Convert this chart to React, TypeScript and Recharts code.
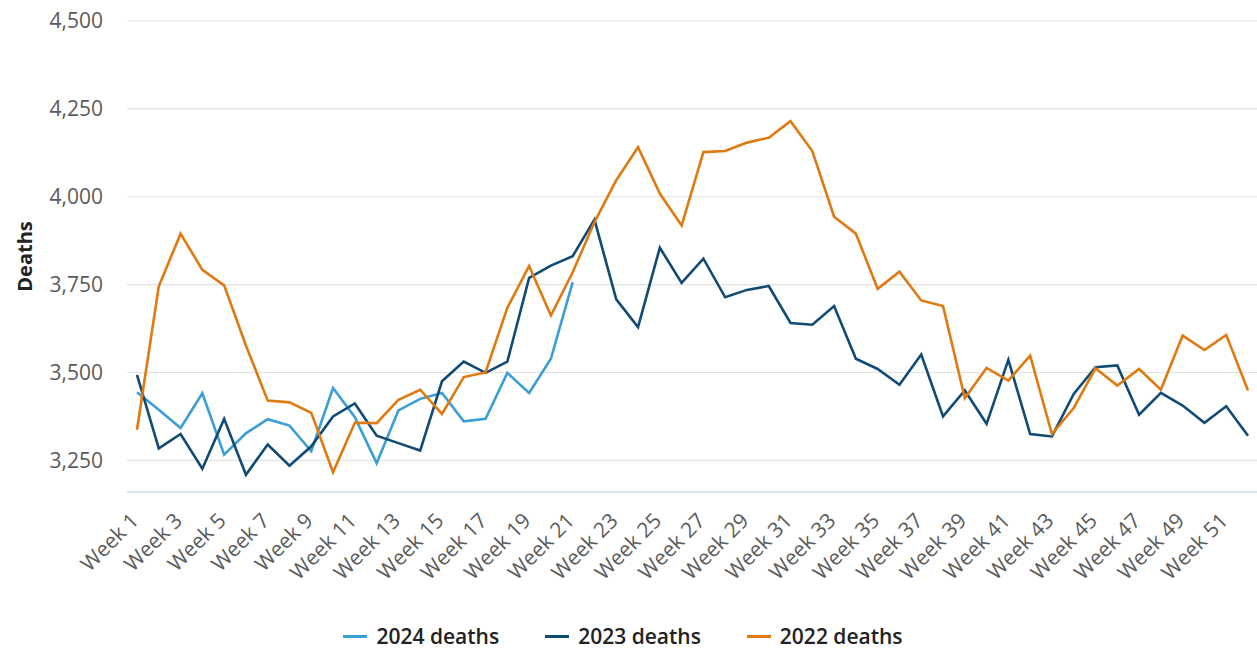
import React from "react";
import { LineChart, Line, XAxis, YAxis, CartesianGrid, Legend } from "recharts";

// Weekly death counts
const weeks = Array.from({ length: 52 }, (_, i) => `Week ${i + 1}`);

const deaths2024 = [
    3444, 3394, 3342, 3441, 3266, 3327, 3367, 3349, 3276, 3456,
    3373, 3242, 3392, 3425, 3442, 3361, 3368, 3499, 3442, 3539,
    3757,
];

const deaths2023 = [
    3493, 3284, 3325, 3226, 3368, 3209, 3295, 3235, 3290, 3375,
    3412, 3320, 3299, 3278, 3475, 3531, 3499, 3531, 3769, 3804,
    3831, 3935, 3708, 3629, 3855, 3755, 3824, 3714, 3735, 3746,
    3641, 3636, 3689, 3539, 3510, 3465, 3551, 3375, 3449, 3354,
    3536, 3325, 3318, 3439, 3515, 3520, 3380, 3442, 3406, 3357,
    3404, 3320,
];

const deaths2022 = [
    3337, 3745, 3895, 3792, 3748, 3577, 3420, 3415, 3385, 3216,
    3357, 3356, 3422, 3451, 3382, 3487, 3500, 3684, 3803, 3662,
    3785, 3928, 4047, 4141, 4009, 3918, 4127, 4130, 4154, 4168,
    4215, 4130, 3943, 3895, 3738, 3787, 3705, 3689, 3427, 3513,
    3477, 3548, 3325, 3399, 3512, 3463, 3510, 3451, 3605, 3564,
    3607, 3449,
];

const yTicks = [3250, 3500, 3750, 4000, 4250, 4500];

const series = [
    { key: "2024 deaths", color: "#3b9fd5" },
    { key: "2023 deaths", color: "#114b74" },
    { key: "2022 deaths", color: "#df7a11" },
];

const FONT = "'Open Sans', sans-serif";

const chartData = weeks.map((week, i) => ({
    week,
    "2024 deaths": deaths2024[i],
    "2023 deaths": deaths2023[i],
    "2022 deaths": deaths2022[i],
}));

function WeekTick({ x, y, payload }: any) {
    return (
        <g transform={`translate(${x + 3},${y + 30})`}>
            <text
                transform="rotate(-45)"
                textAnchor="end"
                fill="#5b5b5b"
                fontSize={21}
                fontFamily={FONT}
            >
                {payload.value}
            </text>
        </g>
    );
}

function LegendBox() {
    return (
        <div
            style={{
                height: 56,
                boxSizing: "border-box",
                paddingTop: 32,
                paddingRight: 11,
                display: "flex",
                justifyContent: "center",
                gap: 46,
                fontFamily: FONT,
            }}
        >
            {series.map((s) => (
                <div key={s.key} style={{ display: "flex", alignItems: "center", height: 24 }}>
                    <span style={{ width: 24, height: 3, background: s.color, marginRight: 9 }} />
                    <span style={{ fontSize: 21, fontWeight: 600, color: "#222" }}>{s.key}</span>
                </div>
            ))}
        </div>
    );
}

export default function App() {
    return (
        <div style={{ position: "absolute", left: 0, top: 0, background: "#fff", fontFamily: FONT }}>
            <LineChart width={1257} height={648} data={chartData} margin={{ top: 21, right: 0, bottom: 0, left: 0 }}>
                <CartesianGrid vertical={false} stroke="#e2e2e2" strokeWidth={1.2} />
                <XAxis
                    dataKey="week"
                    interval={1}
                    padding={{ left: 10, right: 9 }}
                    tickLine={false}
                    tickSize={0}
                    tickMargin={0}
                    axisLine={{ stroke: "#c8d8ee", strokeWidth: 1.2 }}
                    tick={<WeekTick />}
                    height={100}
                />
                <YAxis
                    width={127}
                    domain={[3160, 4500]}
                    ticks={yTicks}
                    axisLine={false}
                    tickLine={false}
                    tickMargin={18}
                    tickFormatter={(v: number) => v.toLocaleString("en-US")}
                    tick={{ fill: "#5b5b5b", fontSize: 21, fontFamily: FONT }}
                    label={{
                        content: ({ viewBox }: any) => {
                            const cy = viewBox.y + viewBox.height / 2;
                            return (
                                <text
                                    x={24}
                                    y={cy}
                                    transform={`rotate(-90, 24, ${cy})`}
                                    textAnchor="middle"
                                    dominantBaseline="central"
                                    fill="#222"
                                    fontSize={20}
                                    fontWeight={700}
                                    fontFamily={FONT}
                                >
                                    Deaths
                                </text>
                            );
                        },
                    }}
                />
                <Legend verticalAlign="bottom" height={56} content={<LegendBox />} />
                {series.map((s) => (
                    <Line
                        key={s.key}
                        type="linear"
                        dataKey={s.key}
                        stroke={s.color}
                        strokeWidth={2.6}
                        dot={false}
                        activeDot={false}
                        isAnimationActive={false}
                    />
                ))}
            </LineChart>
        </div>
    );
}
